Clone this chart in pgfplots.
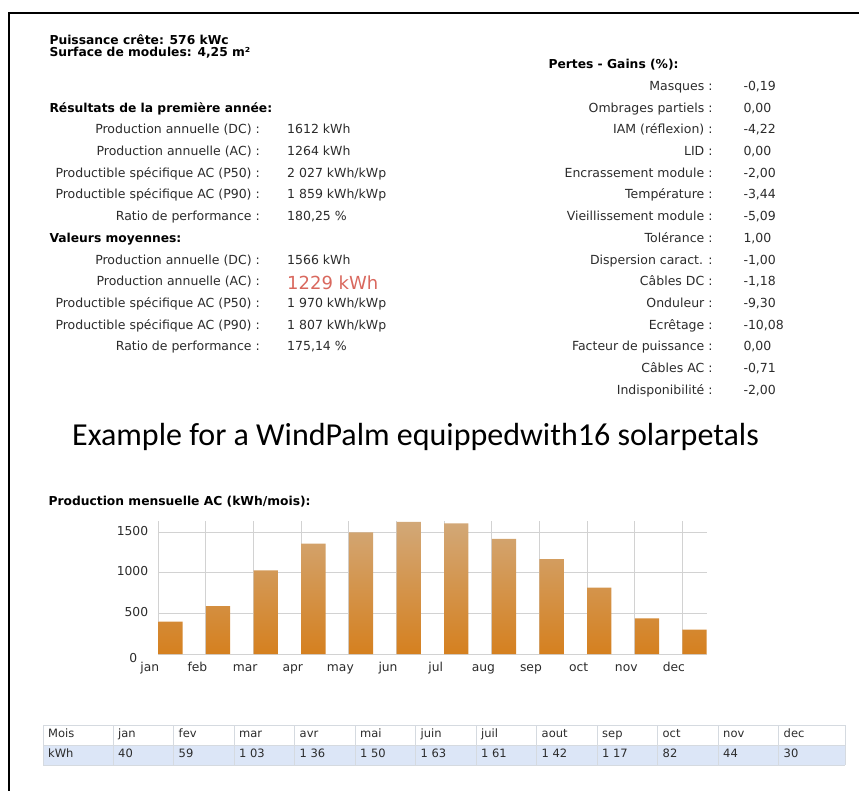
\documentclass[border=0pt]{standalone}
\usepackage{fontspec}
\setmainfont{DejaVu Sans}
\newfontfamily\calibri{Carlito}
\usepackage{pgfplots}
\pgfplotsset{compat=1.18}
\definecolor{txt}{HTML}{2B2B2B}
\definecolor{bartop}{HTML}{D2A878}
\definecolor{barbot}{HTML}{D5801F}
\definecolor{gridc}{HTML}{D2D2D2}
\definecolor{redv}{HTML}{D9685E}
\definecolor{rowblue}{HTML}{DCE6F7}
\definecolor{tblline}{HTML}{D5DAE0}
\begin{document}
\begin{tikzpicture}[x=1pt,y=1pt,
  lab/.style={anchor=mid east, inner sep=0pt, font=\fontsize{12.5}{14}\selectfont, text=txt},
  val/.style={anchor=mid west, inner sep=0pt, font=\fontsize{12.5}{14}\selectfont, text=txt},
  hdr/.style={anchor=mid west, inner sep=0pt, font=\bfseries\fontsize{12.3}{14}\selectfont, text=black},
  tb/.style={anchor=mid west, inner sep=0pt, font=\fontsize{11.5}{13}\selectfont, text=txt}]
\useasboundingbox (0pt,0pt) rectangle (859pt,-791pt);
\draw[line width=1.6pt] (8.7,-791) -- (8.7,-13.3) -- (859,-13.3);

% top-left block
\node[hdr] at (49.3,-42) {Puissance crête: 576 kWc};
\node[hdr] at (49.3,-53.5) {Surface de modules: 4,25 m²};
\node[hdr] at (49.3,-109.4) {Résultats de la première année:};
\node[lab] at (260,-131.1) {Production annuelle (DC) :};
\node[val] at (287,-131.1) {1612 kWh};
\node[lab] at (260,-152.8) {Production annuelle (AC) :};
\node[val] at (287,-152.8) {1264 kWh};
\node[lab] at (260,-174.5) {Productible spécifique AC (P50) :};
\node[val] at (287,-174.5) {2 027 kWh/kWp};
\node[lab] at (260,-196.2) {Productible spécifique AC (P90) :};
\node[val] at (287,-196.2) {1 859 kWh/kWp};
\node[lab] at (260,-217.9) {Ratio de performance :};
\node[val] at (287,-217.9) {180,25 \%};
\node[hdr] at (49.3,-239.6) {Valeurs moyennes:};
\node[lab] at (260,-261.3) {Production annuelle (DC) :};
\node[val] at (287,-261.3) {1566 kWh};
\node[lab] at (260,-283.0) {Production annuelle (AC) :};
\node[anchor=mid west, inner sep=0pt, font=\fontsize{18}{20}\selectfont, text=redv] at (287,-286.5) {1229 kWh};
\node[lab] at (260,-304.7) {Productible spécifique AC (P50) :};
\node[val] at (287,-304.7) {1 970 kWh/kWp};
\node[lab] at (260,-326.4) {Productible spécifique AC (P90) :};
\node[val] at (287,-326.4) {1 807 kWh/kWp};
\node[lab] at (260,-348.1) {Ratio de performance :};
\node[val] at (287,-348.1) {175,14 \%};

% right block
\node[hdr] at (548.3,-66) {Pertes - Gains (\%):};
\node[lab] at (712.7,-87.7) {Masques :};            \node[val] at (743.3,-87.7) {-0,19};
\node[lab] at (712.7,-109.4) {Ombrages partiels :}; \node[val] at (743.3,-109.4) {0,00};
\node[lab] at (712.7,-131.1) {IAM (réflexion) :};   \node[val] at (743.3,-131.1) {-4,22};
\node[lab] at (712.7,-152.8) {LID :};               \node[val] at (743.3,-152.8) {0,00};
\node[lab] at (712.7,-174.5) {Encrassement module :}; \node[val] at (743.3,-174.5) {-2,00};
\node[lab] at (712.7,-196.2) {Température :};       \node[val] at (743.3,-196.2) {-3,44};
\node[lab] at (712.7,-217.9) {Vieillissement module :}; \node[val] at (743.3,-217.9) {-5,09};
\node[lab] at (712.7,-239.6) {Tolérance :};         \node[val] at (743.3,-239.6) {1,00};
\node[lab] at (712.7,-261.3) {Dispersion caract. :}; \node[val] at (743.3,-261.3) {-1,00};
\node[lab] at (712.7,-283.0) {Câbles DC :};         \node[val] at (743.3,-283.0) {-1,18};
\node[lab] at (712.7,-304.7) {Onduleur :};          \node[val] at (743.3,-304.7) {-9,30};
\node[lab] at (712.7,-326.4) {Ecrêtage :};          \node[val] at (743.3,-326.4) {-10,08};
\node[lab] at (712.7,-348.1) {Facteur de puissance :}; \node[val] at (743.3,-348.1) {0,00};
\node[lab] at (712.7,-369.8) {Câbles AC :};         \node[val] at (743.3,-369.8) {-0,71};
\node[lab] at (712.7,-391.5) {Indisponibilité :};   \node[val] at (743.3,-391.5) {-2,00};

% caption
\node[anchor=mid west, inner sep=0pt, font=\calibri\fontsize{32}{36}\selectfont, text=black] at (72,-443) {Example for a WindPalm equippedwith16 solarpetals};

% chart title
\node[hdr] at (48.3,-503) {Production mensuelle AC (kWh/mois):};

\begin{axis}[at={(158.3pt,-654pt)}, anchor=south west, scale only axis,
  width=548.4pt, height=133pt,
  xmin=0, xmax=11.51, ymin=0, ymax=1640,
  xtick={0,1,2,3,4,5,6,7,8,9,10,11},
  xticklabels={jan,feb,mar,apr,may,jun,jul,aug,sep,oct,nov,dec},
  ytick={0,500,1000,1500},
  yticklabels={{\raisebox{-6pt}{0\kern11pt}},500,1000,1500},
  grid=major, grid style={gridc, line width=1pt},
  axis line style={draw=none}, major tick length=0pt,
  /pgf/number format/assume math mode=true,
  tick label style={font=\fontsize{12.3}{14}\selectfont, text=txt, inner sep=0pt},
  xticklabel style={anchor=mid, yshift=-15pt, xshift=-8.5pt},
  yticklabel style={anchor=mid east, xshift=-10pt},
  clip=false]
\addplot[ybar, bar width=0.51, bar shift=0.255, draw=none, top color=bartop, bottom color=barbot]
  coordinates {(0,400) (1,590) (2,1030) (3,1360) (4,1500) (5,1630) (6,1610) (7,1420) (8,1170) (9,820) (10,440) (11,300)};
\end{axis}

% table
\fill[rowblue] (43,-745) rectangle (845,-765);
\foreach \y in {725,745,765} \draw[tblline, line width=0.8pt] (43,-\y) -- (845,-\y);
\foreach \x in {43,113,173.5,234,294.5,355,415.5,476,536.5,597,657.5,718,778.5,845}
  \draw[tblline, line width=0.8pt] (\x,-725) -- (\x,-765);
\foreach \x/\a/\b in {43/Mois/kWh, 113/jan/40, 173.5/fev/59, 234/mar/1 03, 294.5/avr/1 36, 355/mai/1 50, 415.5/juin/1 63, 476/juil/1 61, 536.5/aout/1 42, 597/sep/1 17, 657.5/oct/82, 718/nov/44, 778.5/dec/30}{
  \node[tb] at (\x+5,-735) {\a};
  \node[tb] at (\x+5,-755) {\b};
}
\end{tikzpicture}
\end{document}
